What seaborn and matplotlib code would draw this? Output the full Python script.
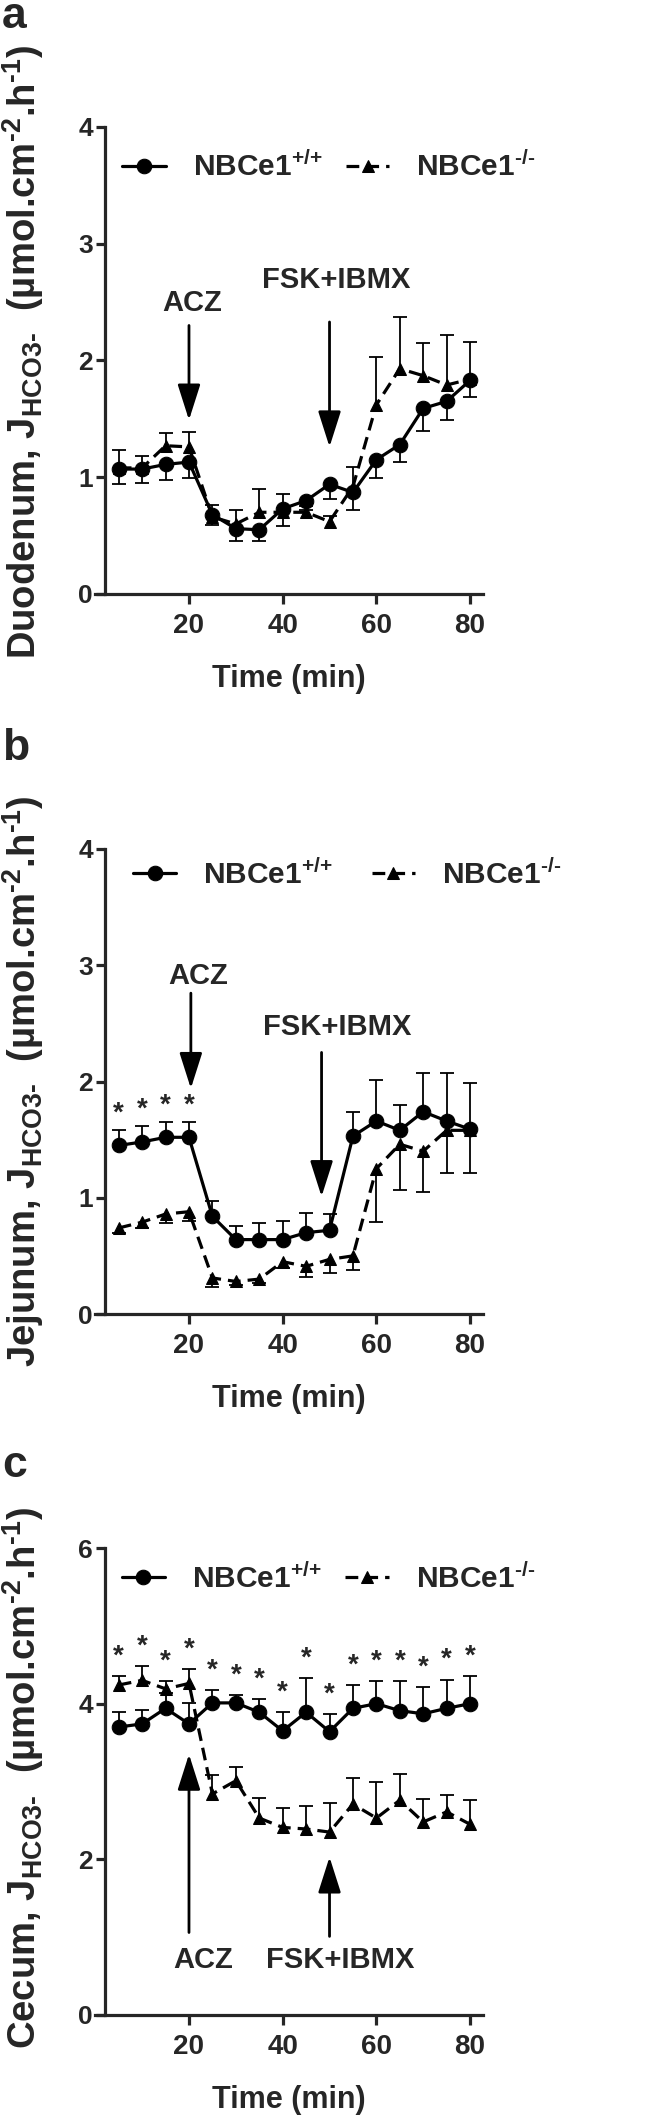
import numpy as np
import pandas as pd
import seaborn as sns
import matplotlib.pyplot as plt

# === Data ===
time = [5, 10, 15, 20, 25, 30, 35, 40, 45, 50, 55, 60, 65, 70, 75, 80]

duo_wt = [1.07, 1.07, 1.11, 1.13, 0.68, 0.56, 0.55, 0.73, 0.80, 0.94, 0.87, 1.15, 1.28, 1.59, 1.65, 1.83]
duo_wt_sem = [0.13, 0.12, 0.13, 0.14, 0.09, 0.11, 0.10, 0.15, 0.08, 0.13, 0.15, 0.16, 0.15, 0.19, 0.16, 0.14]
duo_ko = [1.08, 1.08, 1.27, 1.26, 0.66, 0.60, 0.70, 0.70, 0.70, 0.62, 0.92, 1.62, 1.93, 1.87, 1.79, 1.84]
duo_ko_sem = [0.15, 0.10, 0.11, 0.13, 0.10, 0.12, 0.20, 0.16, 0.05, 0.05, 0.17, 0.41, 0.44, 0.28, 0.43, 0.32]

jej_wt = [1.45, 1.48, 1.52, 1.52, 0.84, 0.64, 0.64, 0.64, 0.70, 0.72, 1.53, 1.66, 1.58, 1.74, 1.66, 1.59]
jej_wt_sem = [0.13, 0.14, 0.13, 0.13, 0.13, 0.12, 0.14, 0.16, 0.17, 0.14, 0.21, 0.35, 0.22, 0.33, 0.41, 0.40]
jej_ko = [0.74, 0.79, 0.86, 0.88, 0.31, 0.28, 0.30, 0.45, 0.41, 0.47, 0.50, 1.25, 1.46, 1.40, 1.58, 1.58]
jej_ko_sem = [0.04, 0.05, 0.08, 0.08, 0.08, 0.03, 0.03, 0.05, 0.09, 0.12, 0.12, 0.46, 0.39, 0.35, 0.37, 0.37]

cec_wt = [3.70, 3.74, 3.94, 3.74, 4.01, 4.01, 3.89, 3.65, 3.89, 3.64, 3.94, 4.00, 3.91, 3.87, 3.94, 4.00]
cec_wt_sem = [0.19, 0.18, 0.20, 0.27, 0.16, 0.10, 0.17, 0.24, 0.44, 0.23, 0.30, 0.29, 0.38, 0.34, 0.37, 0.36]
cec_ko = [4.24, 4.30, 4.19, 4.26, 2.84, 3.01, 2.53, 2.41, 2.39, 2.35, 2.71, 2.53, 2.76, 2.48, 2.61, 2.45]
cec_ko_sem = [0.12, 0.18, 0.10, 0.18, 0.24, 0.17, 0.26, 0.25, 0.30, 0.37, 0.34, 0.46, 0.33, 0.30, 0.22, 0.31]

jej_star_times = [5, 10, 15, 20]
cec_star_times = time

wt_label = "NBCe1$^{{+}/{+}}$"
ko_label = "NBCe1$^{\u2010/\u2010}$"

# === Style ===
sns.set_style("ticks")
plt.rcParams['font.family'] = ['Liberation Sans', 'DejaVu Sans']
plt.rcParams['font.weight'] = 'bold'
plt.rcParams['mathtext.fontset'] = 'custom'
plt.rcParams['mathtext.bf'] = 'Liberation Sans:bold'
plt.rcParams['mathtext.rm'] = 'Liberation Sans:bold'
plt.rcParams['mathtext.default'] = 'bf'

W, H = 649, 2125
fig = plt.figure(figsize=(W / 100, H / 100), dpi=100)

left, width = 95.3 / W, 387.4 / W
ax_a = fig.add_axes([left, 1 - 594 / H, width, 467 / H])
ax_b = fig.add_axes([left, 1 - 1314 / H, width, 465 / H])
ax_c = fig.add_axes([left, 1 - 2015 / H, width, 467 / H])


def err_bars(ax, x, y, sem, up=True, down=True):
    y = np.array(y)
    sem = np.array(sem)
    for on, sign in [(up, 1), (down, -1)]:
        if not on:
            continue
        ends = y + sign * sem
        ax.vlines(x, y, ends, color="black", lw=1.3, zorder=2)
        ax.plot(x, ends, ls="none", marker="_", ms=9.5, mew=1.3, color="black", zorder=2)


def panel(ax, wt, wt_sem, ko, ko_sem, wt_dir, ko_dir, ymax, yticks, ylabel, label_y):
    df = pd.DataFrame({"time": time, "wt": wt, "ko": ko})
    err_bars(ax, time, wt, wt_sem, *wt_dir)
    err_bars(ax, time, ko, ko_sem, *ko_dir)
    sns.lineplot(data=df, x="time", y="wt", ax=ax, color="black", lw=2.3,
                 marker="o", markersize=10.5, markeredgecolor="black", label=wt_label, zorder=4)
    sns.lineplot(data=df, x="time", y="ko", ax=ax, color="black", lw=2.3,
                 marker="^", markersize=9, markeredgecolor="black", label=ko_label, zorder=3,
                 dashes=False, linestyle=(0, (4, 2.2)))
    ax.set_xlim(0, 82.7)
    ax.set_ylim(0, ymax)
    ax.set_xticks([20, 40, 60, 80])
    ax.set_yticks(yticks)
    ax.spines["left"].set_position(("data", 2))
    ax.spines["top"].set_visible(False)
    ax.spines["right"].set_visible(False)
    for s in ["left", "bottom"]:
        ax.spines[s].set_linewidth(2.3)
    ax.tick_params(axis="x", length=7, width=2.3, labelsize=20, pad=7)
    ax.tick_params(axis="y", length=6.5, width=2.3, labelsize=19, pad=2)
    ax.set_xlabel("Time (min)", fontsize=22, fontweight="bold")
    ax.xaxis.set_label_coords(0.5, -0.15)
    ax.set_ylabel(ylabel, fontsize=27.5, fontweight="bold")
    ax.yaxis.set_label_coords(-0.128, label_y)


def arrow(ax, x, y_from, y_to, text, tx, ty):
    ax.annotate("", xy=(x, y_to), xytext=(x, y_from),
                arrowprops=dict(arrowstyle="-|>,head_length=1.1,head_width=0.35",
                                mutation_scale=20, lw=2, color="black",
                                shrinkA=0, shrinkB=0))
    ax.text(tx, ty, text, fontsize=21, fontweight="bold", ha="center", va="center")


leg_kw = dict(loc="center left", ncol=2, frameon=False, fontsize=21.5, handlelength=1.45,
              handletextpad=0.9, borderpad=0, borderaxespad=0)
unit = "  (µmol.cm$^{\u20102}$.h$^{\u20101}$)"
sub = "J$_{\\mathrm{HCO3\u2010}}$"

# === a: Duodenum ===
panel(ax_a, duo_wt, duo_wt_sem, duo_ko, duo_ko_sem, (False, True), (True, False), 4, [0, 1, 2, 3, 4],
      "Duodenum, " + sub + unit, 0.518)
arrow(ax_a, 20, 2.30, 1.49, "ACZ", 20.7, 2.49)
arrow(ax_a, 50, 2.33, 1.26, "FSK+IBMX", 51.4, 2.69)
ax_a.legend(bbox_to_anchor=(0.07, 0.915), columnspacing=0.8, **leg_kw)

# === b: Jejunum ===
panel(ax_b, jej_wt, jej_wt_sem, jej_ko, jej_ko_sem, (True, False), (False, True), 4, [0, 1, 2, 3, 4],
      "Jejunum, " + sub + unit, 0.50)
arrow(ax_b, 20.4, 2.76, 1.94, "ACZ", 21.9, 2.91)
arrow(ax_b, 48.3, 2.25, 1.01, "FSK+IBMX", 51.6, 2.47)
ax_b.legend(bbox_to_anchor=(0.097, 0.945), columnspacing=1.3, **leg_kw)
for t in jej_star_times:
    i = time.index(t)
    ax_b.text(t, jej_wt[i] + jej_wt_sem[i] + 0.14, "*", fontsize=20, ha="center", va="center")

# === c: Cecum ===
panel(ax_c, cec_wt, cec_wt_sem, cec_ko, cec_ko_sem, (True, False), (True, False), 6, [0, 2, 4, 6],
      "Cecum, " + sub + unit, 0.507)
arrow(ax_c, 20, 1.06, 3.35, "ACZ", 23.0, 0.71)
arrow(ax_c, 50, 1.01, 2.03, "FSK+IBMX", 52.2, 0.71)
ax_c.legend(bbox_to_anchor=(0.068, 0.935), columnspacing=0.8, **leg_kw)
for t in cec_star_times:
    i = time.index(t)
    top = max(cec_wt[i] + cec_wt_sem[i], cec_ko[i] + cec_ko_sem[i])
    ax_c.text(t, top + 0.25, "*", fontsize=20, ha="center", va="center")

# === Panel letters ===
fig.text(0.003, 1 - 28 / H, "a", fontsize=32, fontweight="bold", va="baseline")
fig.text(0.003, 1 - 760 / H, "b", fontsize=32, fontweight="bold", va="baseline")
fig.text(0.003, 1 - 1477 / H, "c", fontsize=32, fontweight="bold", va="baseline")

fig.savefig("out.png", dpi=100)
